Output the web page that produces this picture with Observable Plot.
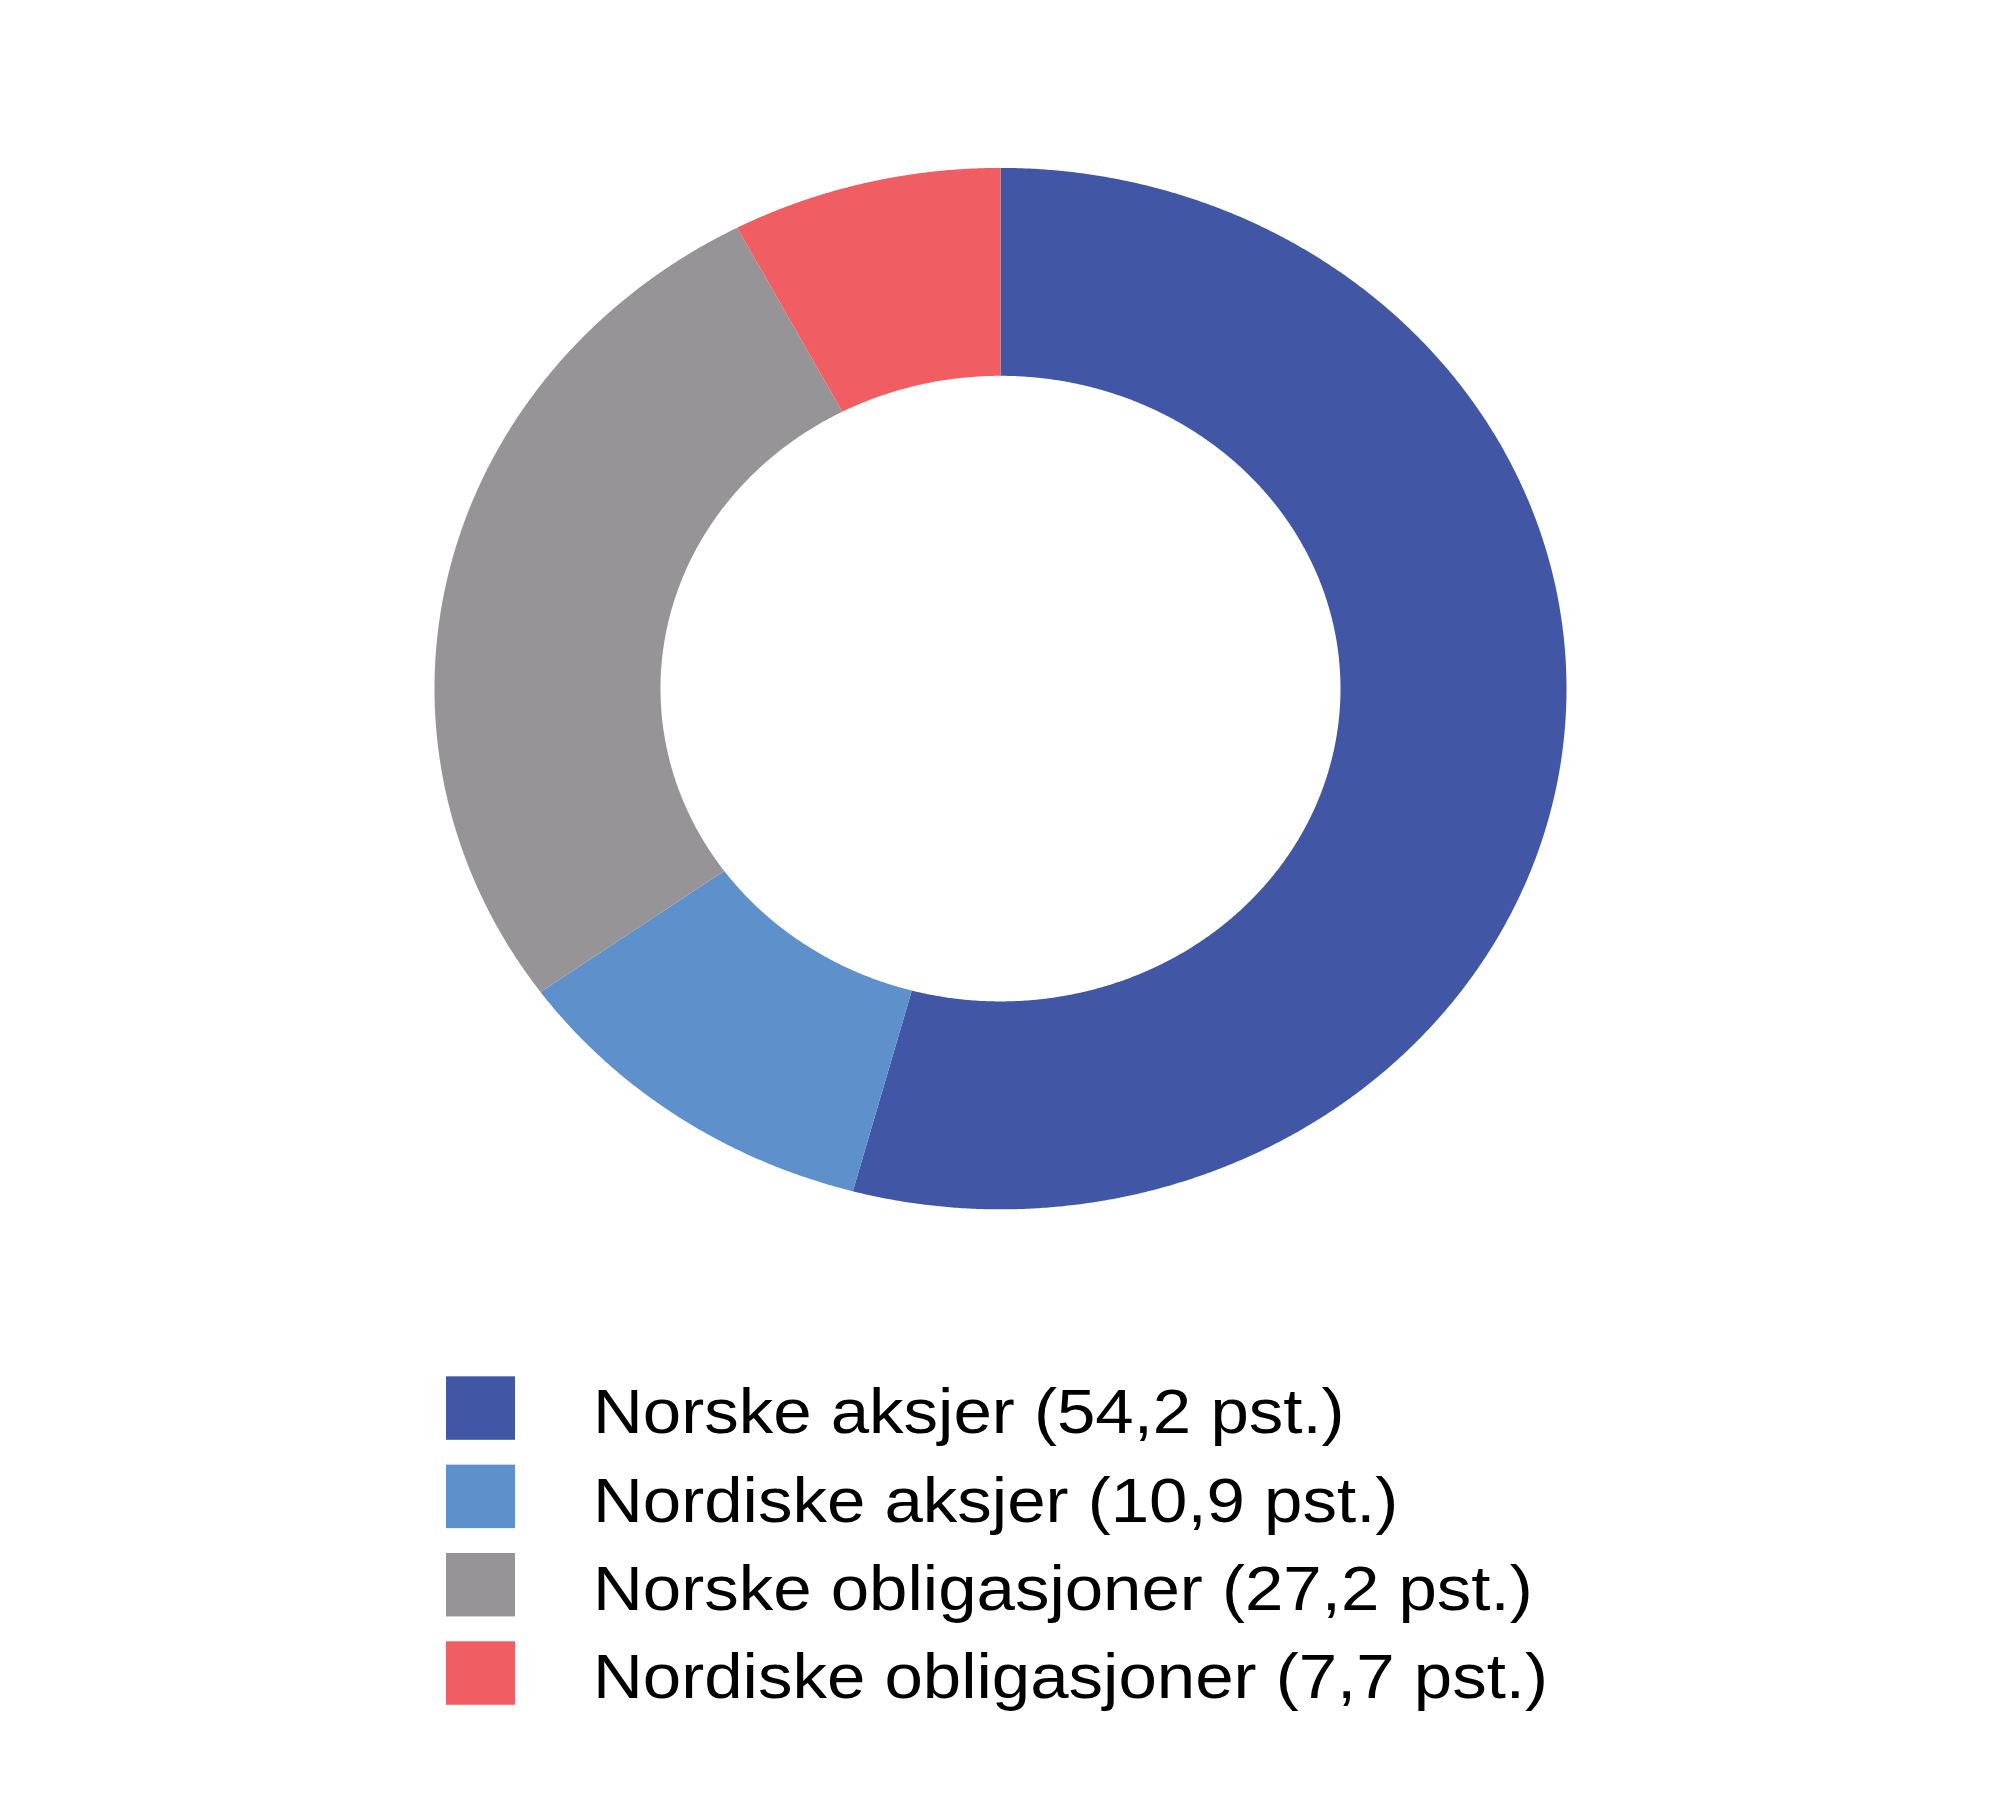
<!DOCTYPE html>
<html>
<head>
<meta charset="utf-8">
<script src="https://cdn.jsdelivr.net/npm/d3@7"></script>
<script src="https://cdn.jsdelivr.net/npm/@observablehq/plot@0.6"></script>
<style>
  html, body { margin: 0; padding: 0; background: #fff; }
  #wrap { position: relative; width: 2000px; height: 1974px; transform: scaleY(0.92); transform-origin: 0 0; font-family: "Liberation Sans", Arial, sans-serif; }
  #chart { position: absolute; left: 0; top: 0; }
  .sw { position: absolute; left: 446px; width: 69px; height: 69px; }
  .lb { position: absolute; left: 593px; font-size: 69px; line-height: 69px; color: #000; white-space: nowrap; }
</style>
</head>
<body>
<div id="wrap"><div id="chart"></div></div>
<script>
const categories = ["Norske aksjer", "Nordiske aksjer", "Norske obligasjoner", "Nordiske obligasjoner"];
const shares = [54.2, 10.9, 27.2, 7.7];
const colors = ["#4256A6", "#5E91CC", "#969497", "#F05E64"];
const labels = categories.map((c, i) => `${c} (${shares[i].toFixed(1).replace(".", ",")} pst.)`);

const R_OUT = 566, R_IN = 340;
const arcs = d3.pie().sort(null).value(d => d)(shares);
const pts = [];
arcs.forEach((a, i) => {
  const n = Math.max(2, Math.ceil((a.endAngle - a.startAngle) / (Math.PI / 720)));
  for (let k = 0; k <= n; k++) {
    const t = a.startAngle + (a.endAngle - a.startAngle) * k / n;
    pts.push({category: categories[i], x: R_OUT * Math.sin(t), y: R_OUT * Math.cos(t)});
  }
  for (let k = n; k >= 0; k--) {
    const t = a.startAngle + (a.endAngle - a.startAngle) * k / n;
    pts.push({category: categories[i], x: R_IN * Math.sin(t), y: R_IN * Math.cos(t)});
  }
});

const H = 1400, CX = 1000, CY = 748;
const plot = Plot.plot({
  width: 2000,
  height: H,
  margin: 0,
  x: {domain: [-CX, 2000 - CX], axis: null},
  y: {domain: [CY - H, CY], axis: null},
  color: {domain: categories, range: colors},
  marks: [
    Plot.line(pts, {x: "x", y: "y", z: "category", fill: "category", stroke: "none", curve: "linear-closed"})
  ]
});
document.getElementById("chart").appendChild(plot);

const wrap = document.getElementById("wrap");
const top0 = 1496, step = 96.1;
categories.forEach((c, i) => {
  const sw = document.createElement("div");
  sw.className = "sw";
  sw.style.top = (top0 + i * step) + "px";
  sw.style.background = plot.scale("color").apply(c);
  wrap.appendChild(sw);
  const lb = document.createElement("div");
  lb.className = "lb";
  lb.style.top = (top0 + i * step + 4) + "px";
  lb.textContent = labels[i];
  wrap.appendChild(lb);
});
</script>
</body>
</html>
